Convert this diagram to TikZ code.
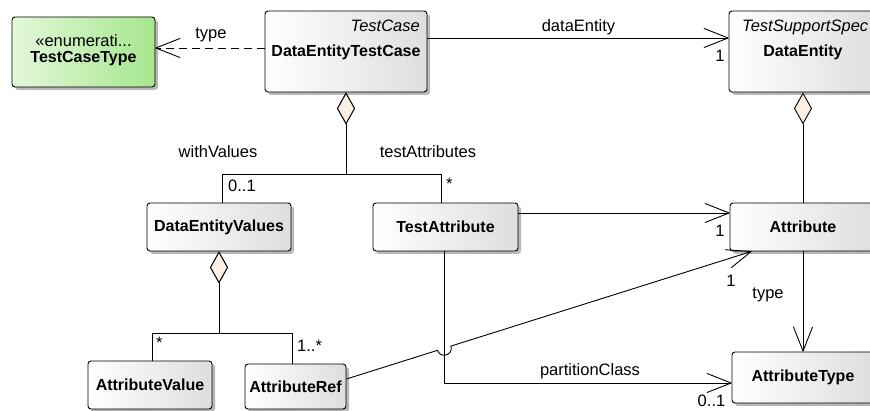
\documentclass[tikz,border=0pt]{standalone}
\usepackage{fontspec}
\setmainfont{Liberation Sans}
\usetikzlibrary{arrows.meta,shadows,calc}
\definecolor{enumleft}{HTML}{E3F8DA}
\definecolor{enumright}{HTML}{A6E68E}
\definecolor{diafill}{HTML}{FBF0E2}
\newcommand{\regfont}{\fontsize{16.5}{19}\selectfont}
\newcommand{\boldfont}{\fontsize{16}{18}\selectfont\bfseries}
\begin{document}
\begin{tikzpicture}[
    x=1pt, y=1pt,
    umlclass/.style={rectangle, rounded corners=3pt, draw, line width=0.9pt, left color=white, right color=black!13, drop shadow={shadow xshift=3pt, shadow yshift=-3pt, fill=black!28, opacity=1}, inner sep=0pt, font=\boldfont},
    enumclass/.style={umlclass, left color=enumleft, right color=enumright},
    assoc/.style={line width=0.9pt, -{Straight Barb[length=24pt, width=19pt, round]}},
    depend/.style={assoc, dash pattern=on 8pt off 5pt},
    aggr/.style={line width=0.9pt, {Diamond[length=32pt, width=18pt, fill=diafill]}-},
    lbl/.style={anchor=base, inner sep=0pt, font=\regfont},
    clsname/.style={anchor=base, inner sep=0pt, font=\boldfont}
  ]
    \useasboundingbox (0,0) rectangle (870,411);

    % Classes
    \node[enumclass, minimum width=143pt, minimum height=70pt] (tct) at (83.5,359) {};
    \node[umlclass, minimum width=162pt, minimum height=81pt] (detc) at (346,359.5) {};
    \node[umlclass, minimum width=148pt, minimum height=81pt] (de) at (803,359.5) {};
    \node[umlclass, minimum width=144pt, minimum height=48pt] (dev) at (219,184) {DataEntityValues};
    \node[umlclass, minimum width=145pt, minimum height=48pt] (ta) at (445.5,184) {TestAttribute};
    \node[umlclass, minimum width=146pt, minimum height=48pt] (att) at (803,184) {Attribute};
    \node[umlclass, minimum width=142pt, minimum height=51pt] (atype) at (803,33.5) {AttributeType};
    \node[umlclass, minimum width=124pt, minimum height=48pt] (aval) at (150,26) {AttributeValue};
    \node[umlclass, minimum width=101pt, minimum height=45pt] (aref) at (295.5,24.5) {AttributeRef};

    % Class headers
    \node[lbl] (tct-st) at (83.5,364) {«enumerati...};
    \node[clsname] (tct-name) at (83.5,348) {TestCaseType};
    \node[lbl, anchor=base east, font=\regfont\itshape] (detc-st) at (420,379) {TestCase};
    \node[clsname] (detc-name) at (346,354) {DataEntityTestCase};
    \node[lbl, anchor=base west, font=\regfont\itshape] (de-st) at (742,379) {TestSupportSpec};
    \node[clsname] (de-name) at (803,354) {DataEntity};

    % Dependency and associations
    \draw[depend] ([yshift=3.5pt]detc.west) -- ([yshift=3.5pt]detc.west -| tct.east);
    \draw[assoc] ([yshift=13.5pt]detc.east) -- ([yshift=13.5pt]detc.east -| de.west);
    \draw[assoc] ([yshift=14pt]ta.east) -- ([yshift=14pt]ta.east -| att.west);
    \draw[assoc] (att.south) -- (atype.north);
    \draw[assoc] ([xshift=-1.5pt]ta.south) |- ([yshift=-5.5pt]atype.west);

    % Aggregations
    \draw[aggr] (detc.south) -- ++(0,-82) -| ([xshift=3pt]dev.north);
    \draw[aggr] (detc.south) -- ++(0,-82) -| ([xshift=-4.5pt]ta.north);
    \draw[aggr] (de.south) -- (att.north);
    \draw[aggr] (dev.south) -- ++(0,-82) -| ([xshift=2pt]aval.north);
    \draw[aggr] (dev.south) -- ++(0,-82) -| ([xshift=-3.5pt]aref.north);

    % AttributeRef to Attribute, hopping over partitionClass
    \coordinate (ref-out) at ([yshift=7.5pt]aref.east);
    \coordinate (att-in) at ([xshift=22pt]att.south west);
    \coordinate (hop-a) at ($(ref-out)!0.2249!(att-in)$);
    \coordinate (hop-b) at ($(ref-out)!0.2579!(att-in)$);
    \draw[assoc] (ref-out) -- (hop-a) .. controls ($(hop-a)!9.3pt!-90:(hop-b)$) and ($(hop-b)!9.3pt!90:(hop-a)$) .. (hop-b) -- (att-in);

    % Role names
    \node[lbl] (dep-type) at (211,372) {type};
    \node[lbl] (role-de) at (578.5,379) {dataEntity};
    \node[lbl] (role-wv) at (218,253) {withValues};
    \node[lbl] (role-ta) at (428,253) {testAttributes};
    \node[lbl] (role-type) at (768,112) {type};
    \node[lbl] (role-pc) at (590,35) {partitionClass};

    % Multiplicities
    \node[lbl] (m-de) at (720,349) {1};
    \node[lbl, anchor=base west] (m-dev) at (228,219) {0..1};
    \node[lbl, anchor=base west] (m-ta) at (446,221) {*};
    \node[lbl] (m-att) at (720,174) {1};
    \node[lbl] (m-ref) at (731,124) {1};
    \node[lbl] (m-atype) at (711.5,4) {0..1};
    \node[lbl, anchor=base west] (m-aval) at (156,62) {*};
    \node[lbl, anchor=base west] (m-aref) at (297,59) {1..*};
\end{tikzpicture}
\end{document}
